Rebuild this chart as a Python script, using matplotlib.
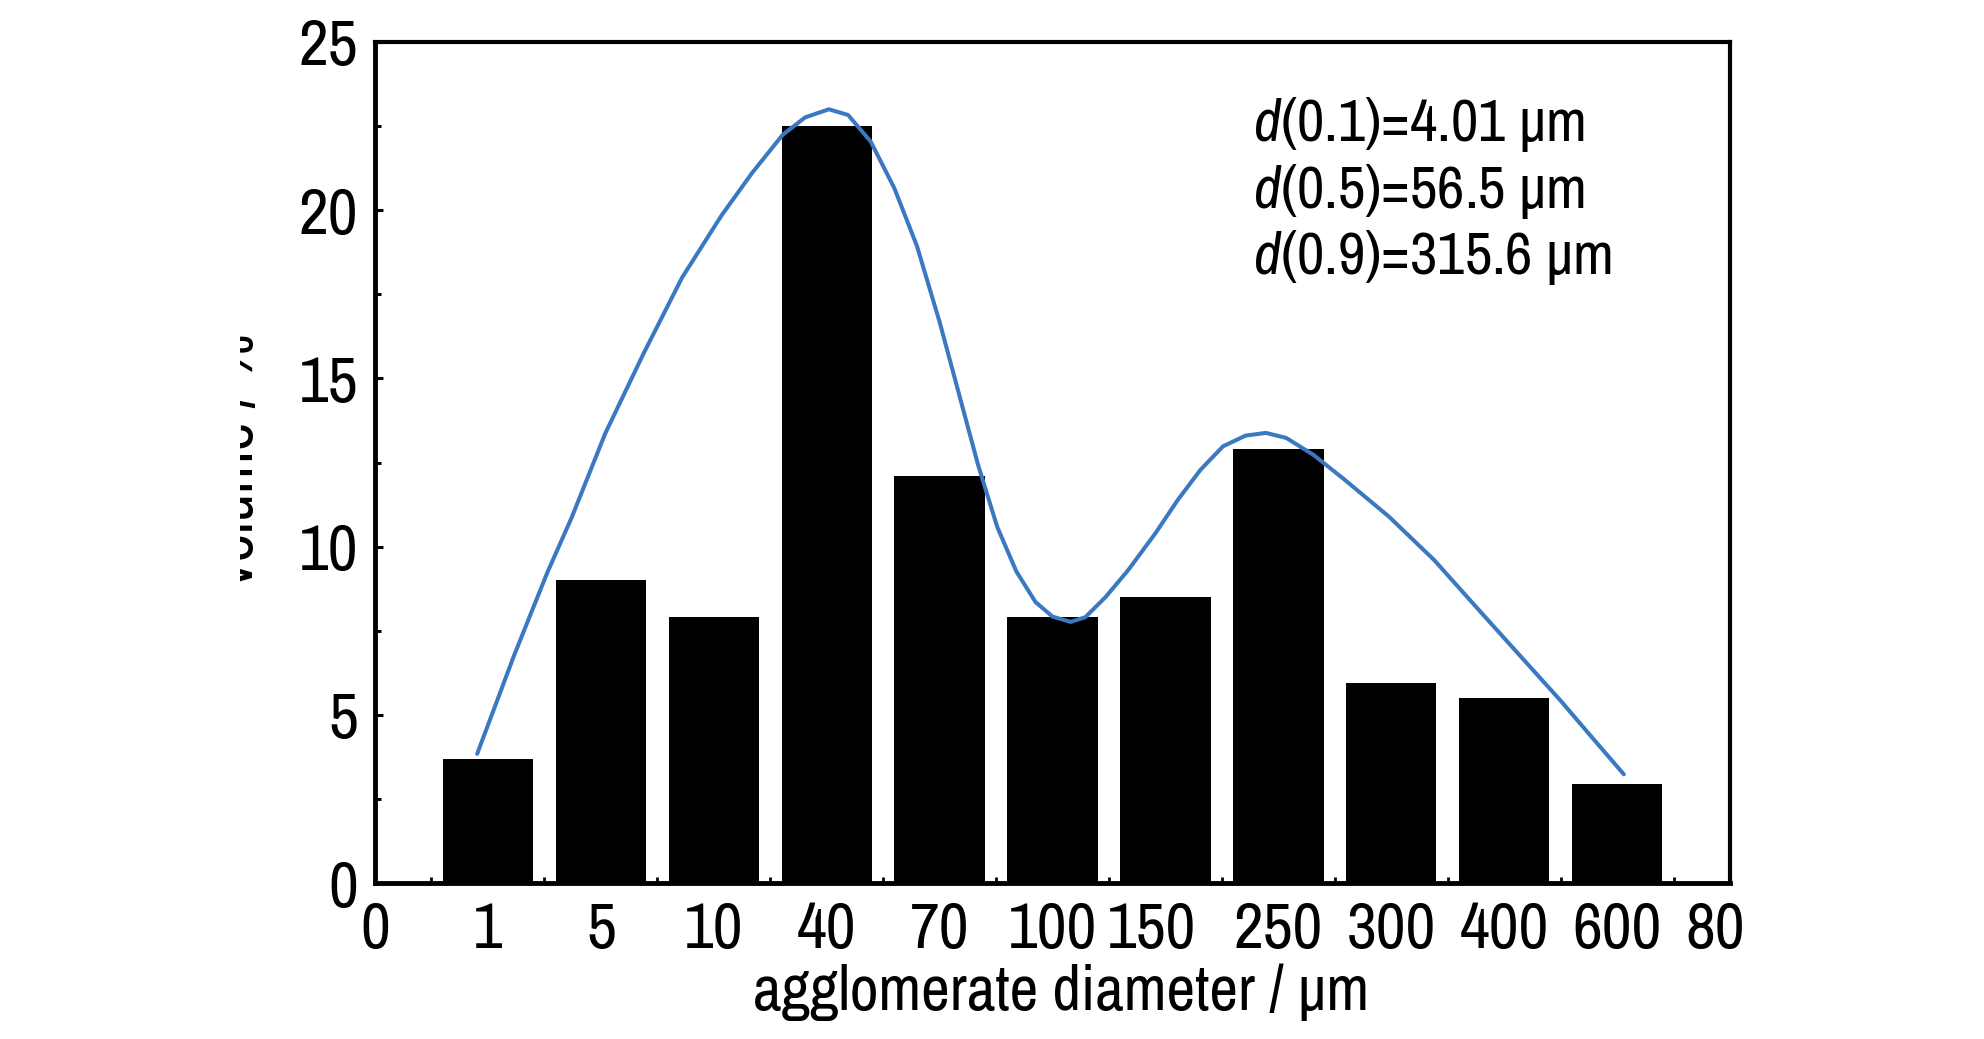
import matplotlib
matplotlib.use("Agg")
import matplotlib.pyplot as plt
from matplotlib import font_manager as fm
from matplotlib.transforms import Bbox
import numpy as np

# bar data (size classes, volume %)
size_labels = ["1", "5", "10", "40", "70", "100", "150", "250", "300", "400", "600"]
volume_pct = [3.7, 9.0, 7.9, 22.5, 12.1, 7.9, 8.5, 12.9, 5.95, 5.5, 2.95]
axis_labels = ["0"] + size_labels + ["800"]
# where the labels sit along the axis ("150" is set a little left in the original)
label_pos = [0, 1, 2, 3, 4, 5, 6, 6.88, 8, 9, 10, 11, 12]

# fitted curve (x in category positions)
curve_x = [0.905, 1.23, 1.53, 1.74, 2.04, 2.38, 2.72, 3.07, 3.34, 3.61, 3.81, 4.02,
           4.19, 4.39, 4.60, 4.80, 5.00, 5.17, 5.34, 5.51, 5.68, 5.85, 6.00, 6.16,
           6.29, 6.47, 6.67, 6.91, 7.11, 7.31, 7.51, 7.71, 7.89, 8.07, 8.31, 8.59,
           8.98, 9.38, 9.78, 10.18, 10.50, 10.78, 11.06]
curve_y = [3.84, 6.75, 9.26, 10.85, 13.37, 15.75, 18.00, 19.85, 21.11, 22.24, 22.76, 23.00,
           22.83, 22.04, 20.65, 18.93, 16.68, 14.56, 12.44, 10.59, 9.26, 8.35, 7.92, 7.76,
           7.90, 8.50, 9.30, 10.39, 11.39, 12.28, 12.98, 13.30, 13.38, 13.23, 12.73, 11.98,
           10.89, 9.60, 8.10, 6.61, 5.42, 4.32, 3.23]

d_labels = ["0.1", "0.5", "0.9"]
d_values = ["4.01", "56.5", "315.6"]

available = {f.name for f in fm.fontManager.ttflist}
candidates = ["Liberation Sans Narrow", "Arial Narrow", "Archivo Narrow",
              "Roboto Condensed", "PT Sans Narrow", "IBM Plex Sans Condensed", "Liberation Sans"]
FONT = next((c for c in candidates if c in available), "DejaVu Sans")

plt.rcParams.update({
    "font.family": [FONT, "DejaVu Sans"],
    "mathtext.fontset": "custom",
    "mathtext.it": f"{FONT}:italic",
    "mathtext.rm": FONT,
})

DPI = 100
W, H = 1984, 1039
fig = plt.figure(figsize=(W / DPI, H / DPI), dpi=DPI)
ax = fig.add_axes([375 / W, 1 - 883 / H, 1355 / W, 841 / H])

pos = np.arange(1, len(size_labels) + 1)
ax.bar(pos, volume_pct, width=0.8, color="black", edgecolor="none", zorder=2)
ax.plot(curve_x, curve_y, color="#3a78c2", linewidth=2.9, solid_capstyle="round",
        solid_joinstyle="round", zorder=3)

ax.set_xlim(0, 12)
ax.set_ylim(0, 25)

ax.set_xticks(label_pos, axis_labels)
ax.set_xticks(np.arange(0.5, 12, 1.0), minor=True)
ax.set_yticks([0, 5, 10, 15, 20, 25])
ax.set_yticks(np.arange(2.5, 25, 5.0), minor=True)

ax.tick_params(axis="x", which="major", length=0, pad=13, labelsize=47)
ax.tick_params(axis="x", which="minor", direction="in", length=4.3, width=2)
ax.tick_params(axis="y", which="major", direction="in", length=6, width=2.2, pad=12, labelsize=47)
ax.tick_params(axis="y", which="minor", direction="in", length=4.3, width=2.2)

for side in ("left", "bottom"):
    ax.spines[side].set_linewidth(3.5)
for side in ("top", "right"):
    ax.spines[side].set_linewidth(3.0)

# the last label is cut off at the picture edge in the original
ax.get_xticklabels()[-1].set_clip_box(Bbox([[0, 0], [1743, H]]))

ax.set_xlabel("agglomerate diameter / μm", fontsize=45, va="baseline")
ax.xaxis.set_label_coords(0.506, (883 - 1010) / 841)

# y label is mostly cut away by the left picture edge in the original
ylab = fig.text(253 / W, 1 - 460 / H, "volume / %", rotation=90, rotation_mode="anchor",
                ha="center", va="baseline", fontsize=45)
ylab.set_clip_box(Bbox([[240, 0], [W, H]]))

for i, (p, v) in enumerate(zip(d_labels, d_values)):
    base = 141 + i * 66.7
    ax.text(0.648, (883 - base) / 841, f"$\\mathit{{d}}$({p})={v} μm", transform=ax.transAxes,
            ha="left", va="baseline", fontsize=43)

fig.savefig("out.png", dpi=DPI, facecolor="white")
